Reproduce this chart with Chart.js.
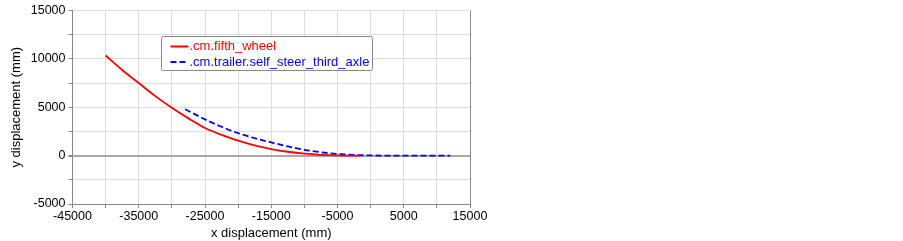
<!DOCTYPE html>
<html><head><meta charset="utf-8">
<script src="https://cdn.jsdelivr.net/npm/chart.js@4"></script>
<style>html,body{margin:0;padding:0;background:#fff;}</style>
</head><body>
<canvas id="c" width="903" height="241"></canvas>
<script>
const redLabel = '.cm.fifth_wheel';
const blueLabel = '.cm.trailer.self_steer_third_axle';
const redX = [-40000,-37500,-35000,-32500,-30000,-27500,-25000,-22500,-20000,-17500,-15000,-12500,-10000,-7500,-5000,-2500,-1500];
const redY = [10350,8850,7500,6150,4950,3850,2850,2150,1550,1050,680,400,200,80,20,0,0];
const blueX = [-28000,-25000,-22500,-20000,-17500,-15000,-12500,-10000,-7500,-5000,-2500,0,2500,12000];
const blueY = [4800,3750,2980,2320,1800,1360,950,600,350,180,70,20,0,0];
const xTitle = 'x displacement (mm)';
const yTitle = 'y displacement (mm)';

const font = {family: '"Liberation Sans", Arial, sans-serif', size: 12.5};

const legendPlugin = {
  id: 'boxLegend',
  afterDraw(chart) {
    const ctx = chart.ctx;
    const x0 = 161.5, y0 = 36.5, w = 211, h = 34;
    ctx.save();
    ctx.fillStyle = '#fff';
    ctx.strokeStyle = '#888';
    ctx.lineWidth = 1;
    ctx.beginPath();
    ctx.roundRect(x0, y0, w, h, 2);
    ctx.fill(); ctx.stroke();
    ctx.font = '13px "Liberation Sans", Arial, sans-serif';
    ctx.textBaseline = 'middle';
    chart.data.datasets.forEach((ds, i) => {
      const yy = y0 + 10 + i * 15.5;
      ctx.strokeStyle = ds.borderColor;
      ctx.lineWidth = 2;
      ctx.setLineDash(ds.borderDash || []);
      ctx.beginPath(); ctx.moveTo(x0 + 9, yy); ctx.lineTo(x0 + 27, yy); ctx.stroke();
      ctx.setLineDash([]);
      ctx.fillStyle = ds.borderColor;
      ctx.fillText(ds.label, x0 + 28, yy);
    });
    ctx.restore();
  }
};

new Chart(document.getElementById('c'), {
  type: 'scatter',
  data: {
    datasets: [
      {label: redLabel, data: redX.map((x, i) => ({x, y: redY[i]})), showLine: true,
       borderColor: '#ff0000', borderWidth: 1.8, pointRadius: 0, cubicInterpolationMode: 'monotone'},
      {label: blueLabel, data: blueX.map((x, i) => ({x, y: blueY[i]})), showLine: true,
       borderColor: '#0000ff', borderWidth: 1.8, borderDash: [6, 3], pointRadius: 0, cubicInterpolationMode: 'monotone'}
    ]
  },
  options: {
    responsive: false, animation: false,
    layout: {padding: {left: 0, top: 10, right: 433, bottom: 0}},
    plugins: {legend: {display: false}, tooltip: {enabled: false}},
    scales: {
      x: {
        type: 'linear', min: -45000, max: 15000,
        afterFit: s => { s.height = 37; },
        ticks: {stepSize: 5000, color: '#000', font, padding: 1, maxRotation: 0, autoSkip: false,
          callback: v => ((v + 45000) % 10000 === 0 ? String(v) : '')},
        grid: {color: c => c.tick && c.tick.value === 15000 ? '#888' : '#dcdcdc', tickLength: 4, tickColor: '#888'},
        border: {color: '#888', width: 1},
        title: {display: true, text: xTitle, color: '#000', font: {family: font.family, size: 13}, padding: {top: 0, bottom: 0}}
      },
      y: {
        type: 'linear', min: -5000, max: 15000,
        afterFit: s => { s.width = 72.5; },
        ticks: {stepSize: 2500, color: '#000', font, padding: 3, autoSkip: false,
          callback: v => (v % 5000 === 0 ? String(v) : '')},
        grid: {color: c => c.tick && c.tick.value === 0 ? '#a8a8a8' : '#dcdcdc',
               lineWidth: c => c.tick && c.tick.value === 0 ? 2 : 1, tickLength: 4, tickColor: '#888'},
        border: {color: '#888', width: 1},
        title: {display: true, text: yTitle, color: '#000', font: {family: font.family, size: 13}, padding: {top: 9, bottom: 0}}
      }
    }
  },
  plugins: [legendPlugin]
});
</script>
</body></html>
